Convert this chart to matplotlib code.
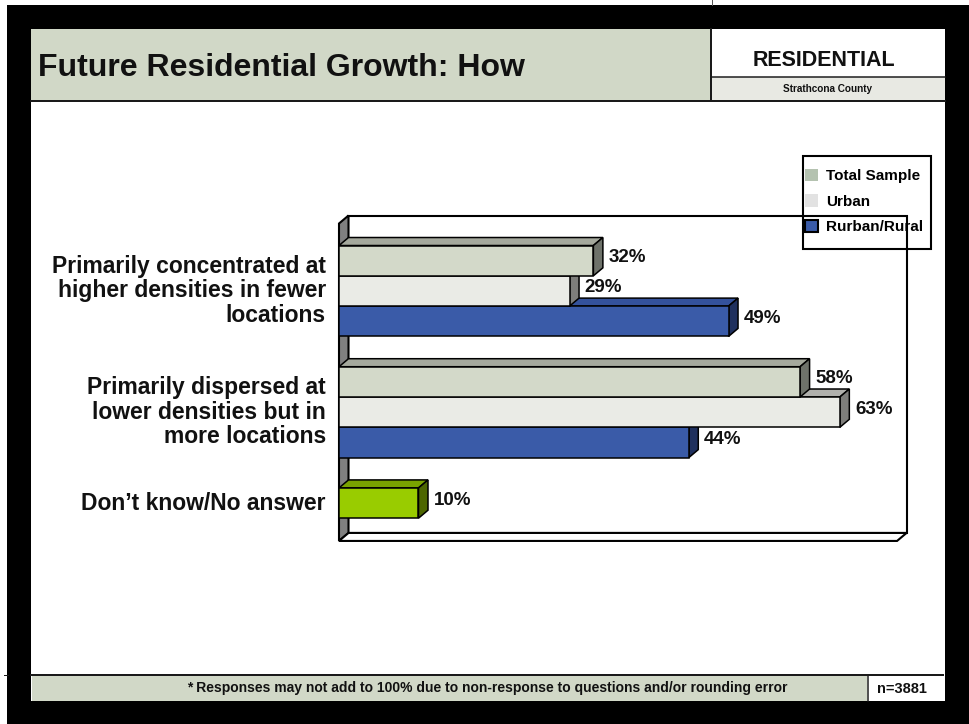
import numpy as np
import matplotlib.pyplot as plt
from matplotlib.patches import Rectangle, Polygon, Patch
from matplotlib.lines import Line2D

plt.rcParams['font.family'] = ['Liberation Sans', 'DejaVu Sans']

# Dados (percentagens)
categorias = ["Primarily concentrated at\nhigher densities in fewer\nlocations",
              "Primarily dispersed at\nlower densities but in\nmore locations",
              "Don\u2019t know/No answer"]
series_nomes = ["Total Sample", "Urban", "Rurban/Rural"]
total_sample = [32, 58, 10]
urban = [29, 63, None]
rurban_rural = [49, 44, None]

titulo = "Future Residential Growth: How"
nota = "* Responses may not add to 100% due to non-response to questions and/or rounding error"
amostra = "n=3881"

# cores: frente, topo, lateral
cores = [("#D3D9C9", "#A5A99D", "#6E726A"),
         ("#EAEBE6", "#B0B0AC", "#7E7E7B"),
         ("#3A5BA8", "#34529C", "#1F305E")]
cor_verde = ("#99CC00", "#7AA300", "#4D6600")

W, H = 969, 724
fig = plt.figure(figsize=(W / 100, H / 100), dpi=100)
fig.patch.set_facecolor('white')


def fig_rect(x0, y0, x1, y1, z=1, **kw):
    fig.add_artist(Rectangle((x0 / W, 1 - y1 / H), (x1 - x0) / W, (y1 - y0) / H,
                             transform=fig.transFigure, zorder=z, **kw))


def fig_line(xs, ys, lw=2, color='#1a1a1a', z=2):
    fig.add_artist(Line2D([x / W for x in xs], [1 - y / H for y in ys],
                          transform=fig.transFigure, lw=lw * 0.72, color=color, zorder=z))


# fundo do slide
fig_rect(7, 5, W, H, z=-10, facecolor='black', linewidth=0)
fig_rect(31, 29, 945, 701, z=-9, facecolor='white', linewidth=0)

# cabeçalho
fig_rect(31, 29, 711, 100, facecolor='#D1D8C7', linewidth=0)
fig_rect(711, 77, 945, 100, facecolor='#E8E9E3', linewidth=0)
fig_line([31, 945], [100.5, 100.5])
fig_line([711, 711], [29, 100])
fig_line([711, 945], [77, 77], lw=1.5)
fig_line([712, 712], [0, 5], lw=1, color='#555555')
fig.text(38 / W, 1 - 68 / H, titulo, fontsize=23, fontweight='bold', ha='left', va='center', color='#111111')
fig.text(824 / W, 1 - 60 / H, "RESIDENTIAL", fontsize=15.5, fontweight='bold', ha='center', va='center', color='#111111')
fig.text(828 / W, 1 - 89 / H, "Strathcona County", fontsize=7.2, fontweight='bold', ha='center', va='center', color='#111111')

# rodapé
fig_rect(32, 676, 867, 701, facecolor='#D1D8C7', linewidth=0)
fig_line([31, 943], [674.5, 674.5])
fig_line([867.5, 867.5], [675, 701], lw=1.5)
fig_line([4, 8], [674.5, 674.5], lw=1)
fig.text(487 / W, 1 - 688 / H, nota, fontsize=10, fontweight='bold', ha='center', va='center', color='#111111')
fig.text(902 / W, 1 - 689 / H, amostra, fontsize=10.5, fontweight='bold', ha='center', va='center', color='#111111')

# eixo do gráfico
ax = fig.add_axes([339 / W, 1 - 542 / H, 568 / W, 327 / H])
ax.set_xlim(0, 71.45)
ax.set_ylim(9.785, -1.007)
ax.patch.set_visible(False)
for s in ax.spines.values():
    s.set_visible(False)
ax.set_xticks([])

DX, DY = 1.195, -0.264   # profundidade 3D
X_FIM = 70.2
Y_TOPO = -0.99
Y_CHAO = 9.75
lw_frame = 1.5

# paredes e chão
ax.add_patch(Rectangle((DX, Y_TOPO), X_FIM, Y_CHAO + DY - Y_TOPO, facecolor='white',
                       edgecolor='black', lw=lw_frame, zorder=0.5, clip_on=False))
ax.add_patch(Polygon([(0, Y_TOPO - DY), (DX, Y_TOPO), (DX, Y_CHAO + DY), (0, Y_CHAO)],
                     facecolor='#808080', edgecolor='black', lw=lw_frame, zorder=0.6, clip_on=False))
ax.add_patch(Polygon([(0, Y_CHAO), (X_FIM, Y_CHAO), (X_FIM + DX, Y_CHAO + DY), (DX, Y_CHAO + DY)],
                     facecolor='white', edgecolor='black', lw=lw_frame, zorder=0.6, clip_on=False))

# barras
series = [total_sample, urban, rurban_rural]
for j, vals in enumerate(series):
    idx = [i for i, v in enumerate(vals) if v is not None]
    ys = [4 * i + j + 0.5 for i in idx]
    ws = [vals[i] for i in idx]
    barras = ax.barh(ys, ws, height=1.0, color=cores[j][0], edgecolor='black', lw=1.1)
    for i, b in zip(idx, barras):
        frente, topo, lado = cor_verde if i == 2 else cores[j]
        v = b.get_width()
        y0 = b.get_y()
        y1 = y0 + b.get_height()
        z = 3 + (20 - y0) * 0.05
        b.set_facecolor(frente)
        b.set_zorder(z + 0.01)
        ax.add_patch(Polygon([(0, y0), (DX, y0 + DY), (v + DX, y0 + DY), (v, y0)],
                             facecolor=topo, edgecolor='black', lw=1.1, zorder=z))
        ax.add_patch(Polygon([(v, y0), (v + DX, y0 + DY), (v + DX, y1 + DY), (v, y1)],
                             facecolor=lado, edgecolor='black', lw=1.1, zorder=z))
        ax.text(v + DX + 0.7, (y0 + y1) / 2 - 0.1, f"{v:.0f}%", ha='left', va='center',
                fontsize=13.5, fontweight='bold', color='#111111', zorder=10)

# rótulos das categorias
pos = []
for i in range(len(categorias)):
    slots = [4 * i + j + 0.5 for j, vals in enumerate(series) if vals[i] is not None]
    pos.append(np.mean(slots))
ax.set_yticks(pos)
ax.set_yticklabels(categorias, fontsize=16.5, fontweight='bold', linespacing=1.1, color='#111111')
ax.tick_params(axis='y', length=0, pad=9.4)
for lab in ax.get_yticklabels():
    lab.set_va('center')
    lab.set_ha('right')
    lab.set_multialignment('right')

# legenda
fig_rect(803, 156, 931, 249, z=6, facecolor='none', edgecolor='black', linewidth=1.5)
handles = [Patch(facecolor='#B4C2B0', edgecolor='none'),
           Patch(facecolor='#E2E2E2', edgecolor='none'),
           Patch(facecolor='#3A5BA8', edgecolor='black', lw=1.5)]
fig.legend(handles, series_nomes, loc='upper left', bbox_to_anchor=(805 / W, 1 - 169 / H),
           frameon=False, prop={'weight': 'bold', 'size': 11}, handlelength=0.85,
           handleheight=0.85, handletextpad=0.55, labelspacing=0.72, borderpad=0,
           borderaxespad=0)

plt.savefig('out.png', dpi=100)
